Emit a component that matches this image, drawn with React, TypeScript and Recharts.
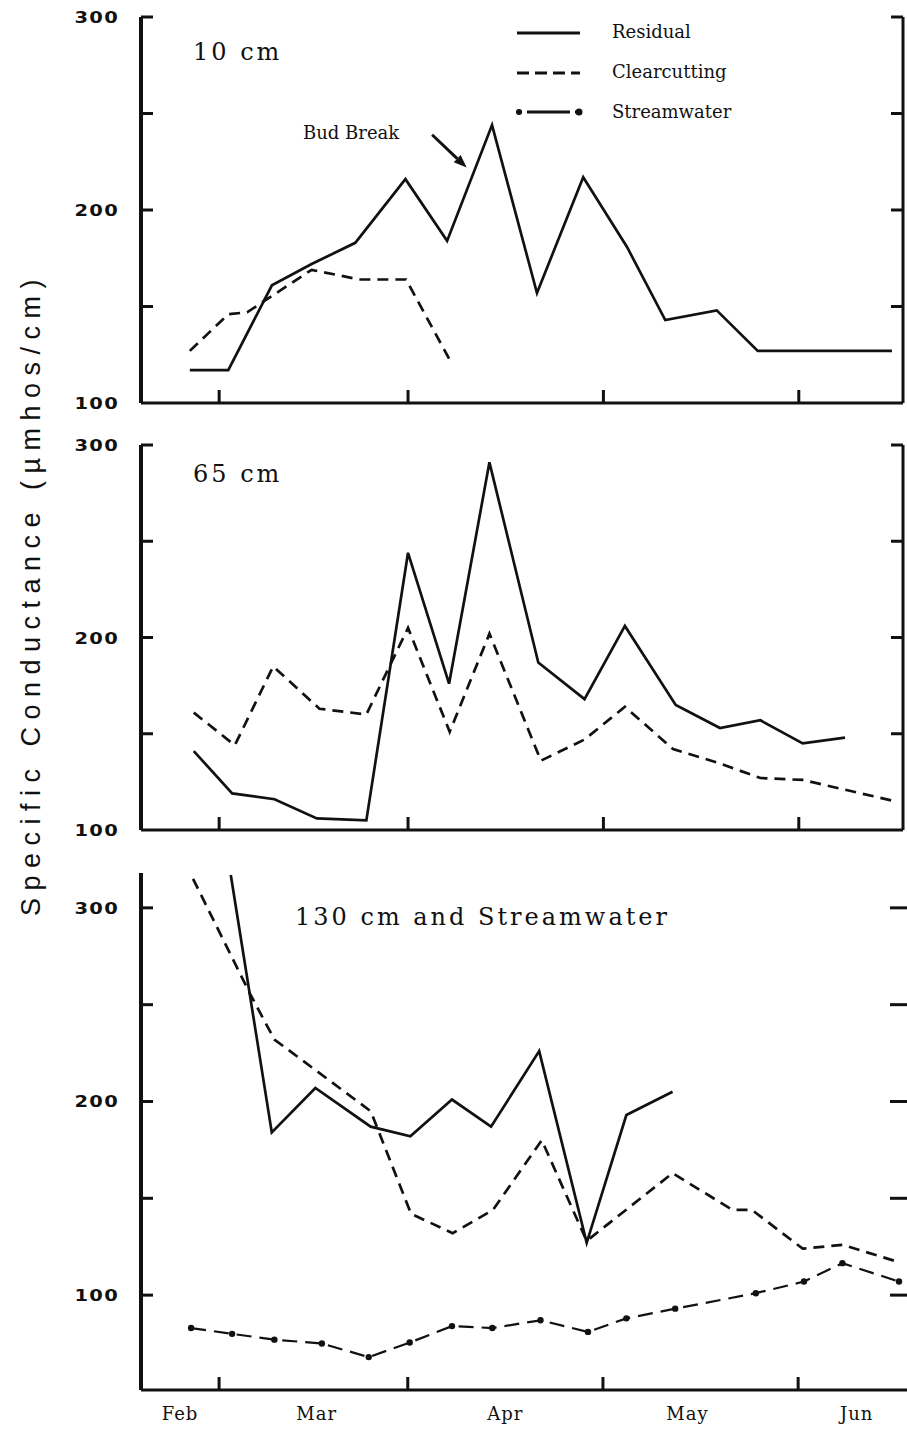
import React from 'react';
import { LineChart, Line, XAxis, YAxis, ReferenceLine } from 'recharts';

// x = days after 1 February, y = specific conductance (µmhos/cm)

// 10 cm
const res10Days = [9.5, 15.4, 22.1, 28.2, 34.9, 42.6, 49.0, 55.9, 62.8, 69.9, 76.6, 82.5, 90.4, 96.7, 117.3];
const res10Vals = [117, 117, 161, 172, 183, 216, 184, 244, 157, 217, 181, 143, 148, 127, 127];
const cut10Days = [9.5, 15.4, 18.3, 28.2, 35.5, 42.7, 49.3];
const cut10Vals = [127, 146, 147, 169, 164, 164, 123];

// 65 cm
const res65Days = [10.1, 16.0, 22.5, 29.0, 36.6, 43.0, 49.3, 55.5, 63.0, 70.1, 76.3, 84.1, 90.9, 97.1, 103.6, 110.1];
const res65Vals = [141, 119, 116, 106, 105, 244, 176, 291, 187, 168, 206, 165, 153, 157, 145, 148];
const cut65Days = [10.1, 16.4, 22.3, 29.4, 36.6, 43.0, 49.4, 55.5, 63.4, 70.1, 76.3, 83.7, 90.5, 97.1, 103.6, 117.7];
const cut65Vals = [161, 144, 185, 163, 160, 205, 151, 202, 136, 147, 164, 142, 135, 127, 126, 115];

// 130 cm and streamwater
const res130Days = [15.8, 22.1, 28.8, 37.3, 43.4, 49.8, 55.8, 63.2, 70.5, 76.6, 83.7];
const res130Vals = [317, 184, 207, 187, 182, 201, 187, 226, 127, 193, 205];
const cut130Days = [10.0, 18.7, 22.5, 37.3, 43.5, 49.9, 56.1, 63.6, 70.5, 83.7, 92.9, 95.9, 103.7, 109.8, 118.5];
const cut130Vals = [315, 256, 232, 195, 142, 132, 144, 180, 128, 163, 144, 144, 124, 126, 117];
const streamDays = [9.7, 16.0, 22.5, 29.8, 37.0, 43.3, 49.8, 56.0, 63.4, 70.7, 76.6, 84.1, 96.5, 103.9, 109.8, 118.5];
const streamVals = [83, 80, 77, 75, 68, 75.5, 84, 83, 87, 81, 88, 93, 101, 107, 116.5, 107];

// axes
const monthTickDays = [14, 43, 73, 103];
const monthLabelDays = [8, 29, 58, 86, 112];
const monthLabels = ['Feb', 'Mar', 'Apr', 'May', 'Jun'];
const yTicks = [100, 150, 200, 250, 300];
const yMarks = [150, 200, 250, 300];
const yMarks130 = [100, 150, 200, 250, 300];

// bud break arrow (day, value)
const budFrom = { d: 46.7, v: 239 };
const budTo = { d: 52.0, v: 222 };

const pts = (days: number[], vals: number[]) => days.map((d, i) => ({ d, v: vals[i] }));

const INK = '#111';
const SERIF = '"DejaVu Serif", "Liberation Serif", serif';

function LeftTick(props: any) {
    const { x, y, payload, marks } = props;
    const v = payload.value;
    return (
        <g>
            {marks.includes(v) && <line x1={x} x2={x + 12} y1={y} y2={y} stroke={INK} strokeWidth={3} />}
            {v % 100 === 0 && (
                <text
                    transform={`translate(${x - 22},${y + 6}) scale(1.3,1)`}
                    textAnchor="end"
                    fontFamily="DejaVu Sans"
                    fontWeight="bold"
                    fontSize={15}
                    letterSpacing={1}
                    fill={INK}
                >
                    {v}
                </text>
            )}
        </g>
    );
}

function RightTick(props: any) {
    const { x, y, payload, marks, len } = props;
    if (!marks.includes(payload.value)) return <g />;
    return <line x1={x} x2={x - len} y1={y} y2={y} stroke={INK} strokeWidth={3} />;
}

function XTick(props: any) {
    const { x, y, payload, labels } = props;
    const li = monthLabelDays.indexOf(payload.value);
    if (li >= 0) {
        if (!labels) return <g />;
        return (
            <text x={x} y={y + 30} textAnchor="middle" fontFamily={SERIF} fontSize={18} letterSpacing={1} fill={INK}>
                {monthLabels[li]}
            </text>
        );
    }
    return <line x1={x} x2={x} y1={y} y2={y - 13} stroke={INK} strokeWidth={3} />;
}

function Arrow(props: any) {
    const { x1, y1, x2, y2 } = props;
    const a = Math.atan2(y2 - y1, x2 - x1);
    const len = 13;
    const w = 5;
    const bx = x2 - len * Math.cos(a);
    const by = y2 - len * Math.sin(a);
    const p = `${x2},${y2} ${bx + w * Math.sin(a)},${by - w * Math.cos(a)} ${bx - w * Math.sin(a)},${by + w * Math.cos(a)}`;
    return (
        <g>
            <line x1={x1} y1={y1} x2={bx} y2={by} stroke={INK} strokeWidth={3} />
            <polygon points={p} fill={INK} />
        </g>
    );
}

// shared axes for one panel
function axes(yDomain: number[], marks: number[], xDomain: number[], xHeight: number, labels: boolean, rLen: number) {
    const xTicks = labels ? [...monthTickDays, ...monthLabelDays].sort((a, b) => a - b) : monthTickDays;
    return [
        <XAxis
            key="x"
            type="number"
            dataKey="d"
            domain={xDomain}
            allowDataOverflow
            ticks={xTicks}
            interval={0}
            height={xHeight}
            tickSize={0}
            tickMargin={0}
            tickLine={false}
            axisLine={{ stroke: INK, strokeWidth: 3 }}
            tick={(p: any) => <XTick {...p} labels={labels} />}
        />,
        <YAxis
            key="yl"
            yAxisId="left"
            type="number"
            domain={yDomain}
            allowDataOverflow
            ticks={yTicks}
            interval={0}
            width={141}
            tickSize={0}
            tickMargin={0}
            tickLine={false}
            axisLine={{ stroke: INK, strokeWidth: 4 }}
            tick={(p: any) => <LeftTick {...p} marks={marks} />}
        />,
        <YAxis
            key="yr"
            yAxisId="right"
            orientation="right"
            type="number"
            domain={yDomain}
            allowDataOverflow
            ticks={yTicks}
            interval={0}
            width={1}
            tickSize={0}
            tickMargin={0}
            tickLine={false}
            axisLine={{ stroke: INK, strokeWidth: 3 }}
            tick={(p: any) => <RightTick {...p} marks={marks} len={rLen} />}
        />,
    ];
}

const solid = { stroke: INK, strokeWidth: 2.7, dot: false, isAnimationActive: false, type: 'linear' as const };
const dashed = { ...solid, strokeDasharray: '11 7' };

export default function App() {
    return (
        <div
            style={{
                position: 'absolute',
                left: 0,
                top: 0,
                width: 907,
                height: 1430,
                overflow: 'hidden',
                background: '#fff',
            }}
        >
            {/* 10 cm */}
            <div style={{ position: 'absolute', left: 0, top: 0 }}>
                <LineChart width={907} height={430} margin={{ top: 17, right: 3, bottom: 26, left: 0 }}>
                    {axes([100, 300], yMarks, [2, 119], 1, false, 12)}
                    <Line {...solid} yAxisId="left" data={pts(res10Days, res10Vals)} dataKey="v" />
                    <Line {...dashed} yAxisId="left" data={pts(cut10Days, cut10Vals)} dataKey="v" />
                    <ReferenceLine
                        yAxisId="left"
                        segment={[
                            { x: budFrom.d, y: budFrom.v },
                            { x: budTo.d, y: budTo.v },
                        ]}
                        shape={(p: any) => <Arrow {...p} />}
                    />
                </LineChart>
            </div>

            {/* 65 cm */}
            <div style={{ position: 'absolute', left: 0, top: 430 }}>
                <LineChart width={907} height={430} margin={{ top: 15, right: 3, bottom: 29, left: 0 }}>
                    {axes([100, 300], yMarks, [2, 119], 1, false, 12)}
                    <Line {...solid} yAxisId="left" data={pts(res65Days, res65Vals)} dataKey="v" />
                    <Line {...dashed} yAxisId="left" data={pts(cut65Days, cut65Vals)} dataKey="v" />
                </LineChart>
            </div>

            {/* 130 cm and streamwater */}
            <div style={{ position: 'absolute', left: 0, top: 860 }}>
                <LineChart width={920} height={570} margin={{ top: 13, right: 7, bottom: 0, left: 0 }}>
                    {axes([51, 318], yMarks130, [2, 120.5], 40, true, 22)}
                    <Line {...solid} yAxisId="left" data={pts(res130Days, res130Vals)} dataKey="v" />
                    <Line {...dashed} yAxisId="left" data={pts(cut130Days, cut130Vals)} dataKey="v" />
                    <Line
                        {...solid}
                        strokeWidth={2.2}
                        strokeDasharray="15 8"
                        dot={{ r: 3.2, fill: INK, stroke: 'none' }}
                        yAxisId="left"
                        data={pts(streamDays, streamVals)}
                        dataKey="v"
                    />
                </LineChart>
            </div>

            {/* texts and legend */}
            <svg
                width={907}
                height={1430}
                style={{ position: 'absolute', left: 0, top: 0, pointerEvents: 'none' }}
            >
                <text
                    transform="translate(40,594) rotate(-90)"
                    textAnchor="middle"
                    fontFamily='"Liberation Sans", sans-serif'
                    fontSize={27}
                    letterSpacing={7.5}
                    fill={INK}
                >
                    Specific Conductance (µmhos/cm)
                </text>

                <g fontFamily={SERIF} fill={INK}>
                    <text x={193} y={60} fontSize={24} letterSpacing={3}>10 cm</text>
                    <text x={193} y={482} fontSize={24} letterSpacing={3}>65 cm</text>
                    <text x={295} y={925} fontSize={24} letterSpacing={3}>130 cm and Streamwater</text>
                    <text x={303} y={139} fontSize={18}>Bud Break</text>
                </g>

                <g fontFamily={SERIF} fontSize={18} fill={INK}>
                    <line x1={517} x2={580} y1={33} y2={33} stroke={INK} strokeWidth={3} />
                    <text x={612} y={38}>Residual</text>
                    <line x1={517} x2={580} y1={73} y2={73} stroke={INK} strokeWidth={3} strokeDasharray="12 6" />
                    <text x={612} y={78}>Clearcutting</text>
                    <line x1={519} x2={578} y1={112} y2={112} stroke={INK} strokeWidth={3} strokeDasharray="3 5 43 5 3" />
                    <circle cx={519} cy={112} r={3} fill={INK} />
                    <circle cx={579} cy={112} r={3.5} fill={INK} />
                    <text x={612} y={118}>Streamwater</text>
                </g>
            </svg>
        </div>
    );
}
